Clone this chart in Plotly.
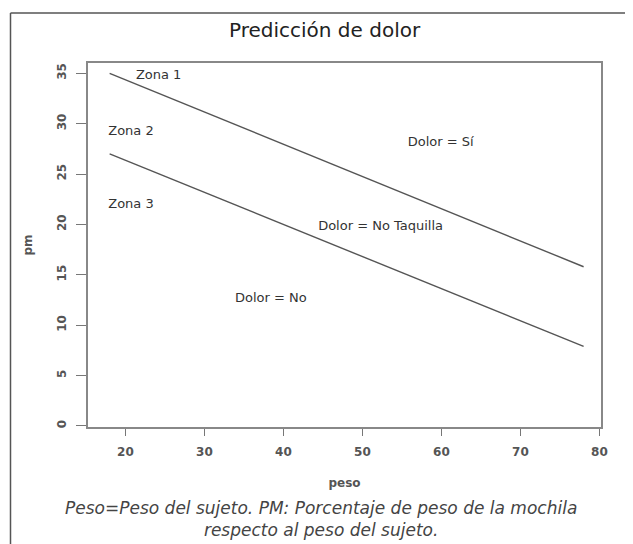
import plotly.graph_objects as go

# Data
line_x = [18, 78]
zona1_line_y = [35.0, 15.8]
zona2_line_y = [27.0, 7.9]

label_texts = ["Zona 1", "Zona 2", "Zona 3", "Dolor = Sí", "Dolor = No Taquilla", "Dolor = No"]
label_x = [24.2, 20.7, 20.7, 59.9, 52.3, 38.4]
label_y = [34.75, 29.2, 22.0, 28.15, 19.8, 12.6]

x_ticks = [20, 30, 40, 50, 60, 70, 80]
y_ticks = [0, 5, 10, 15, 20, 25, 30, 35]

title_text = "Predicción de dolor"
caption_text = ("Peso=Peso del sujeto. PM: Porcentaje de peso de la mochila<br>"
                "respecto al peso del sujeto.")

FONT = "DejaVu Sans"
line_color = "#555555"
text_color = "#333333"

# The page body adds an 8px offset; target positions are given in screenshot pixels.
OFF = 8
W, H = 633 - OFF, 544 - OFF
L, R, T, B = 88 - OFF, 601 - OFF, 63 - OFF, 427 - OFF
PW, PH = R - L, B - T


def px_x(x):
    return (x - OFF - L) / PW


def px_y(y):
    return (B - (y - OFF)) / PH


fig = go.Figure()
for ys in (zona1_line_y, zona2_line_y):
    fig.add_trace(go.Scatter(x=line_x, y=ys, mode="lines",
                             line=dict(color=line_color, width=1.4),
                             showlegend=False, hoverinfo="skip"))

fig.add_trace(go.Scatter(x=label_x, y=label_y, mode="text", text=label_texts,
                         textposition="middle center",
                         textfont=dict(family=FONT, size=13, color=text_color),
                         showlegend=False, hoverinfo="skip"))

tickfont = dict(family=FONT, size=12, color="#555", weight="bold")
axtitlefont = dict(family=FONT, size=12, color="#555", weight="bold")

frame_line = dict(color="#555", width=1.5)

fig.update_layout(
    width=W, height=H,
    margin=dict(l=L, r=W - R, t=T, b=H - B),
    paper_bgcolor="white", plot_bgcolor="white",
    font=dict(family=FONT, color=text_color),
    xaxis=dict(range=[15.26, 80.2], tickvals=x_ticks, ticks="outside", ticklen=7,
               tickcolor="#777", tickwidth=1.3, showgrid=False, zeroline=False,
               showline=True, linecolor="#888", linewidth=1.5, mirror=True,
               tickfont=tickfont, ticklabelstandoff=6,
               title=dict(text="peso", font=axtitlefont, standoff=20)),
    yaxis=dict(range=[-0.1, 36.02], tickvals=y_ticks, ticks="outside", ticklen=10,
               tickcolor="#777", tickwidth=1.3, showgrid=False, zeroline=False,
               tickangle=-90,
               showline=True, linecolor="#888", linewidth=1.5, mirror=True,
               tickfont=tickfont, ticklabelstandoff=5,
               title=dict(text="pm", font=axtitlefont, standoff=20)),
    annotations=[
        dict(text=title_text, x=px_x(325), y=px_y(30), xref="paper", yref="paper",
             xanchor="center", yanchor="middle", showarrow=False,
             font=dict(family=FONT, size=20, color="#222")),
        dict(text=caption_text, x=px_x(320.5), y=px_y(519), xref="paper", yref="paper",
             xanchor="center", yanchor="middle", showarrow=False, align="center",
             font=dict(family=FONT, size=17, color="#444", style="italic")),
    ],
    shapes=[
        # outer frame: only top and left edges are visible in the reference
        dict(type="line", xref="paper", yref="paper",
             x0=px_x(10.5), x1=px_x(640), y0=px_y(13), y1=px_y(13), line=frame_line),
        dict(type="line", xref="paper", yref="paper",
             x0=px_x(10.5), x1=px_x(10.5), y0=px_y(13), y1=px_y(560), line=frame_line),
    ],
)

fig.write_html("out.html")
